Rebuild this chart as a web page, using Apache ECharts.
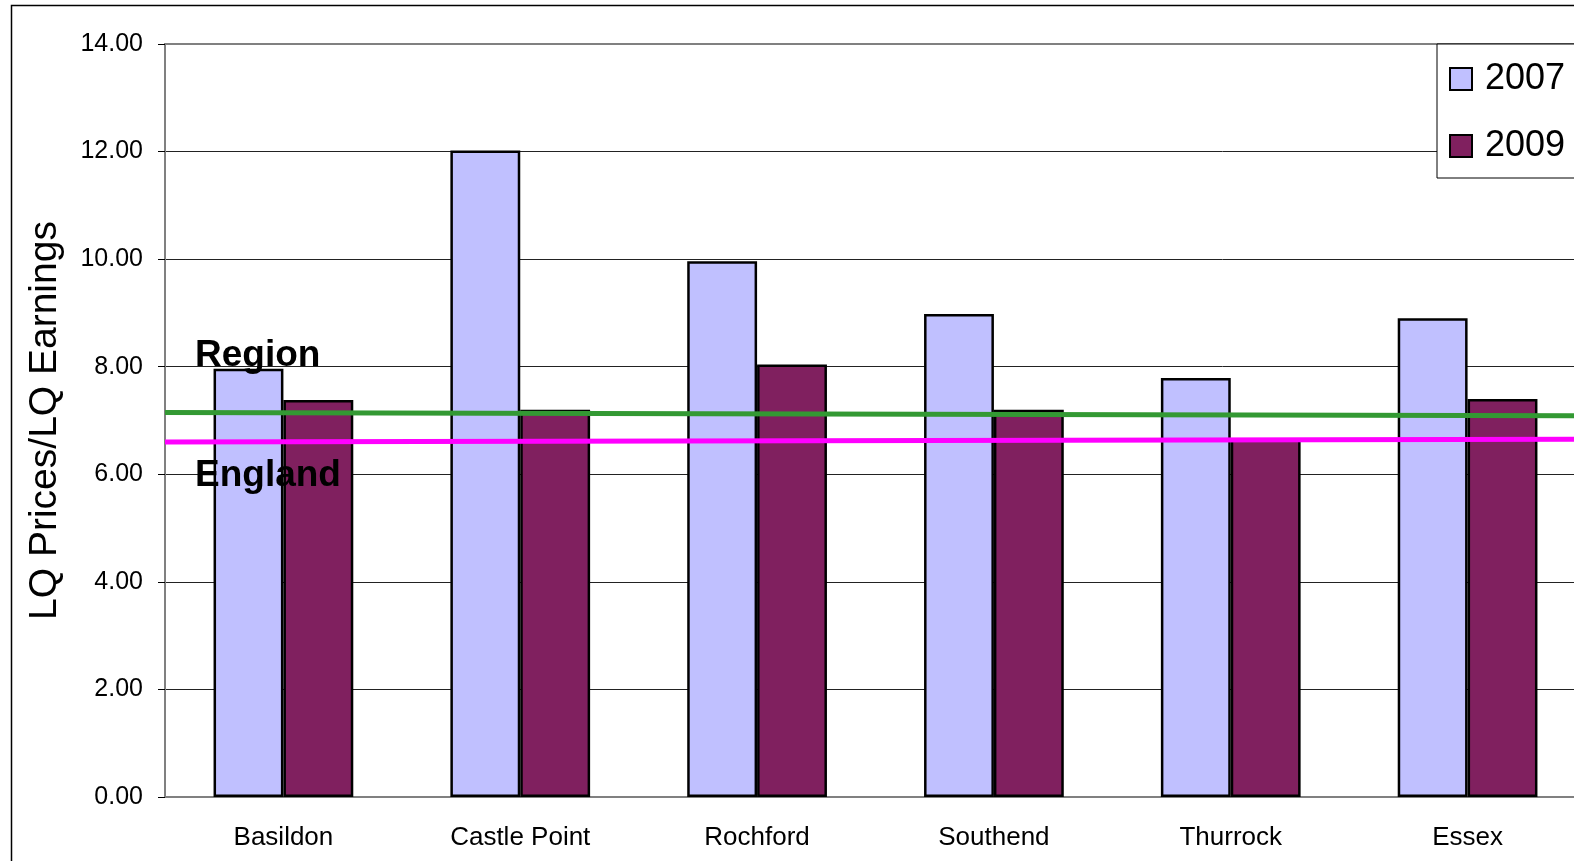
<!DOCTYPE html>
<html>
<head>
    <meta charset="UTF-8">
    <title>LQ Prices / LQ Earnings</title>
    <script src="https://cdn.jsdelivr.net/npm/echarts/dist/echarts.min.js"></script>
    <style>
        html, body { margin: 0; padding: 0; background: #fff; }
    </style>
</head>
<body>
    <div id="chart" style="width: 1574px;height:861px;"></div>
    <script type="text/javascript">
        var myChart = echarts.init(document.getElementById('chart'));

        // data
        var districts = ['Basildon', 'Castle Point', 'Rochford', 'Southend', 'Thurrock', 'Essex'];
        var ratio2007 = [7.96, 12.02, 9.96, 8.98, 7.79, 8.90];
        var ratio2009 = [7.38, 7.20, 8.04, 7.20, 6.67, 7.40];
        // reference lines, start and end of the plot width
        var regionLine = [[0, 7.15], [1, 7.09]];
        var englandLine = [[0, 6.60], [1, 6.65]];

        var font = 'Liberation Sans, Arial, sans-serif';

        var option = {
            animation: false,
            backgroundColor: '#fff',
            textStyle: { fontFamily: font },
            grid: {
                left: 165,
                top: 44,
                width: 1421,
                bottom: 64,
                outerBoundsMode: 'none',
                show: true,
                borderColor: '#808080',
                borderWidth: 2
            },
            legend: {
                orient: 'vertical',
                left: 1437,
                top: 44,
                data: ['2007', '2009'],
                icon: 'rect',
                itemWidth: 22,
                itemHeight: 22,
                itemGap: 31,
                padding: [17, 40, 14, 12],
                borderColor: '#000',
                borderWidth: 1,
                backgroundColor: '#fff',
                textStyle: { fontSize: 36, color: '#000', fontFamily: font, padding: [0, 0, 0, 8] }
            },
            xAxis: [
                {
                    type: 'category',
                    data: districts,
                    axisLine: { lineStyle: { color: '#808080', width: 2 } },
                    axisTick: { length: 6, lineStyle: { color: '#000' } },
                    axisLabel: { fontSize: 26, color: '#000', margin: 28 }
                },
                {
                    type: 'value',
                    min: 0,
                    max: 1,
                    show: false
                }
            ],
            yAxis: {
                type: 'value',
                min: 0,
                max: 14,
                interval: 2,
                name: 'LQ Prices/LQ Earnings',
                nameLocation: 'middle',
                nameGap: 100,
                nameTextStyle: { fontSize: 39, color: '#000', fontFamily: font },
                axisLine: { show: true, lineStyle: { color: '#808080', width: 2 } },
                axisTick: { show: true, length: 7, lineStyle: { color: '#000' } },
                axisLabel: {
                    fontSize: 25,
                    color: '#000',
                    margin: 22,
                    formatter: function (v) { return v.toFixed(2); }
                },
                splitLine: {
                    lineStyle: {
                        color: ['#222', '#222', '#222', '#222', '#222', '#222', '#222', '#808080'],
                        width: 1
                    }
                }
            },
            series: [
                {
                    name: '2007',
                    type: 'bar',
                    data: ratio2007,
                    barGap: '0%',
                    barCategoryGap: '41%',
                    itemStyle: { color: '#c0c0ff', borderColor: '#000', borderWidth: 2.5 }
                },
                {
                    name: '2009',
                    type: 'bar',
                    data: ratio2009,
                    itemStyle: { color: '#80205f', borderColor: '#000', borderWidth: 2.5 }
                },
                {
                    name: 'Region',
                    type: 'line',
                    xAxisIndex: 1,
                    data: regionLine,
                    symbol: 'none',
                    lineStyle: { color: '#339933', width: 5 },
                    z: 5
                },
                {
                    name: 'England',
                    type: 'line',
                    xAxisIndex: 1,
                    data: englandLine,
                    symbol: 'none',
                    lineStyle: { color: '#ff00ff', width: 5 },
                    z: 5
                }
            ],
            graphic: [
                {
                    type: 'rect',
                    shape: { x: 11.5, y: 5.5, width: 1700, height: 1000 },
                    style: { fill: 'none', stroke: '#000', lineWidth: 1.5 },
                    silent: true,
                    z: 100
                },
                {
                    type: 'text',
                    left: 195,
                    top: 337,
                    style: { text: 'Region', font: 'bold 37px ' + font, fill: '#000' },
                    z: 100
                },
                {
                    type: 'text',
                    left: 195,
                    top: 457,
                    style: { text: 'England', font: 'bold 37px ' + font, fill: '#000' },
                    z: 100
                }
            ]
        };

        myChart.setOption(option);
    </script>
</body>
</html>
